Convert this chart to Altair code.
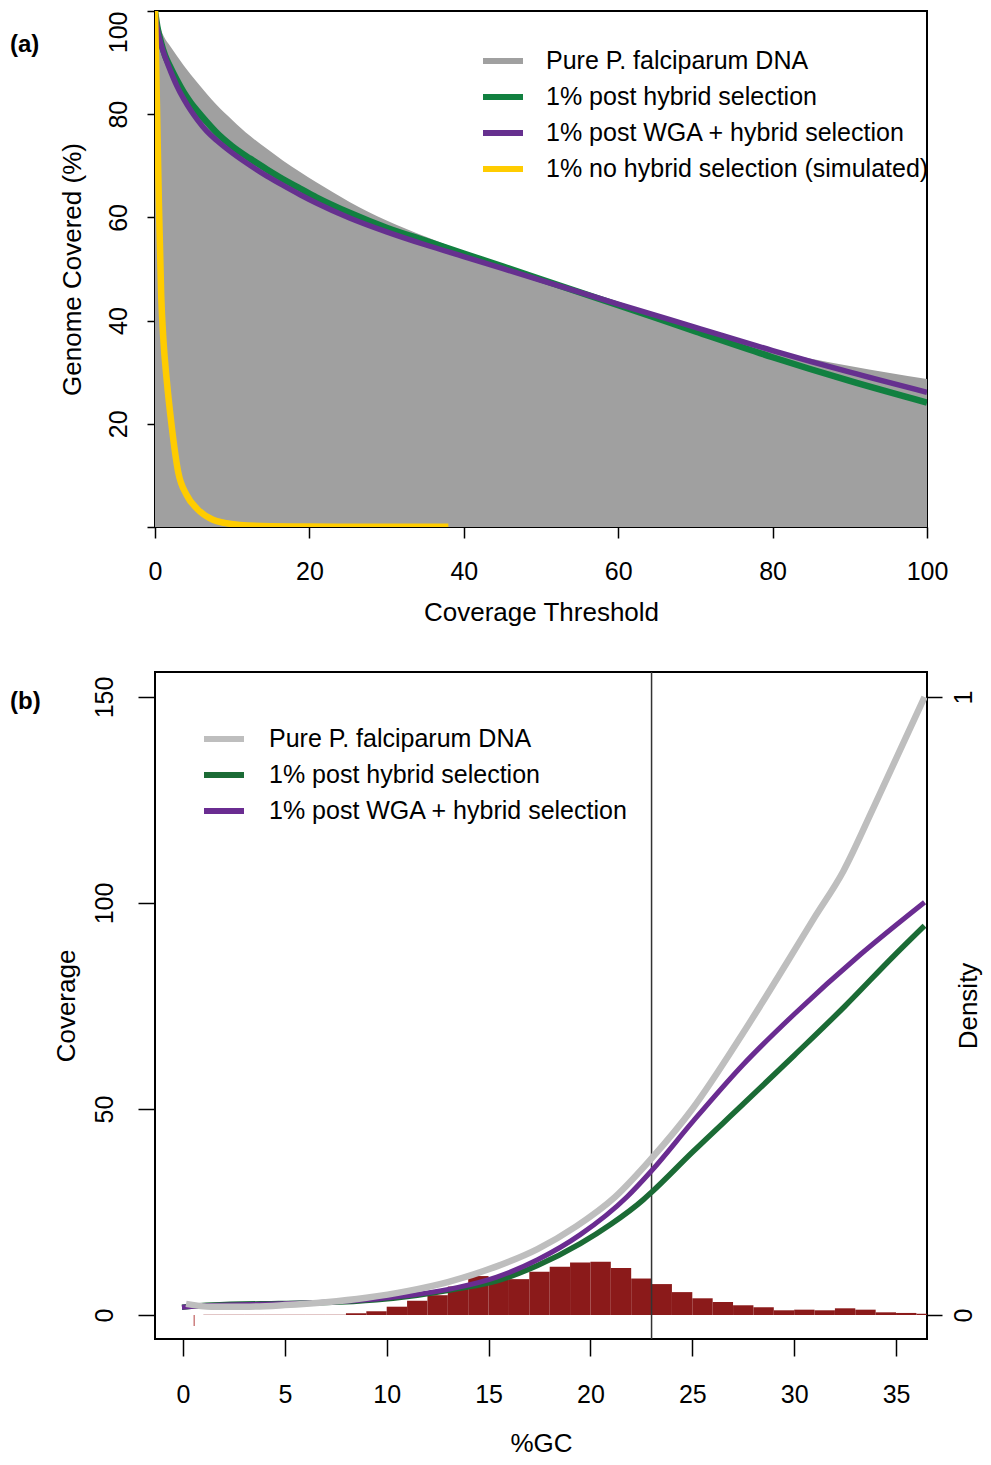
import altair as alt
import pandas as pd

FONT = "Liberation Sans"

# ---------------- panel (a): genome covered vs coverage threshold ----------------
SERIES_A = ["Pure P. falciparum DNA", "1% post hybrid selection",
            "1% post WGA + hybrid selection", "1% no hybrid selection (simulated)"]
COLORS_A = ["#A0A0A0", "#118040", "#66308F", "#FFCC00"]

pure_x = [0, 0.3, 1.1, 2.0, 3.7, 5.5, 8.0, 10.0, 12.3, 14.5, 16.6, 18.8, 20.9, 25.2, 30, 35, 40,
          50, 60, 70, 75, 80, 85, 90, 95, 100]
pure_y = [100, 98.4, 95.2, 93.1, 89.5, 86.1, 81.8, 78.9, 75.8, 73.3, 71.0, 68.8, 66.8, 63.0, 59.4,
          56.3, 53.4, 48.0, 42.9, 38.3, 36.1, 34.2, 32.6, 31.2, 29.9, 28.7]

green_x = [0, 0.3, 0.8, 1.3, 1.9, 2.8, 3.7, 4.6, 5.5, 6.7, 8, 10, 12.3, 14.5, 16.6, 18.8, 20.9,
           25.2, 30, 35, 40, 50, 60, 70, 80, 90, 100]
green_y = [100, 97.0, 93.8, 91.4, 89.4, 86.7, 84.3, 82.3, 80.6, 78.5, 76.4, 73.8, 71.4, 69.3,
           67.4, 65.6, 63.9, 60.9, 58.0, 55.5, 53.0, 48.0, 43.0, 37.9, 32.9, 28.3, 24.1]

purple_x = [0, 0.3, 0.7, 1.1, 1.5, 2, 2.8, 3.7, 4.6, 5.5, 6.7, 8, 10, 12.3, 14.5, 16.6, 18.8,
            20.9, 25.2, 30, 35, 40, 50, 60, 70, 80, 90, 100]
purple_y = [100, 96.5, 94.0, 92.0, 90.3, 88.4, 85.6, 83.0, 80.8, 78.9, 76.7, 74.9, 72.5, 70.1,
            68.0, 66.2, 64.4, 62.8, 59.9, 57.2, 54.7, 52.4, 47.8, 43.2, 38.7, 34.2, 30.0, 26.1]

yellow_x = [0, 0.25, 0.5, 0.8, 1.1, 1.5, 2.15, 3.0, 4.1, 5.4, 7.5, 9, 11, 15, 20, 30, 38]
yellow_y = [100, 82, 63, 45, 36, 28.8, 19.7, 10.7, 6.2, 3.6, 1.4, 0.8, 0.4, 0.15, 0.1, 0.05, 0.05]

# ---------------- panel (b): coverage vs %GC ----------------
SERIES_B = ["Pure P. falciparum DNA", "1% post hybrid selection", "1% post WGA + hybrid selection"]
COLORS_B = ["#BEBEBE", "#1B6B35", "#6A2C91"]

gray_gc = [0.15, 1.4, 3, 5, 7, 9, 11, 13, 15.4, 17.4, 19.3, 21.2, 23, 25, 27.5, 29.7, 31, 32.4,
           33.9, 36.4]
gray_cov = [2.7, 2.0, 2.0, 2.4, 3.1, 4.2, 5.8, 8.0, 11.8, 16.0, 21.5, 28.6, 38.0, 50.0, 68.5,
            86.0, 96.5, 107.6, 123.2, 150]

purple_gc = [-0.05, 1.4, 4.7, 7, 9.5, 11.5, 13.5, 15.4, 17.4, 19.5, 21.8, 23, 25, 27.5, 30,
             33.25, 36.4]
purple_cov = [1.9, 2.3, 2.7, 3.1, 3.9, 5.0, 6.7, 9.2, 13.4, 19.5, 28.7, 35.0, 46.8, 60.8, 73.0,
              87.5, 100.2]

green_gc = [-0.05, 1.4, 4.7, 7, 9.5, 11.5, 13.5, 15.4, 17.4, 19.5, 21, 22.6, 23, 25, 27.5, 30,
            32.5, 34.9, 36.4]
green_cov = [1.9, 2.4, 2.8, 3.0, 3.7, 4.8, 6.4, 8.3, 12.0, 17.3, 22.0, 28.0, 29.8, 39.5, 51.2,
             63, 75, 87.2, 94.5]

hist_lo = list(range(0, 37))
hist_density = [0.0, 0.0004, 0.0004, 0.0004, 0.0004, 0.0004, 0.0004, 0.0004, 0.0028, 0.006,
                0.0134, 0.023, 0.032, 0.046, 0.063, 0.057, 0.058, 0.070, 0.078, 0.085, 0.086,
                0.076, 0.059, 0.050, 0.037, 0.027, 0.021, 0.0157, 0.0125, 0.0076, 0.0086,
                0.0076, 0.0108, 0.0086, 0.0043, 0.0033, 0.002]

GC_CUTOFF = [23]
SMALL_TICK_GC = [0.55]
SMALL_TICK_COV = [0, -2.7]

LABEL_SIZE = 25
TITLE_SIZE = 26


def frame(xs, ys, name):
    return pd.DataFrame({"x": xs, "y": ys, "series": name})


# ---------- panel (a) ----------
xa = alt.X("x:Q", scale=alt.Scale(domain=[0, 100], nice=False, zero=False),
           axis=alt.Axis(values=[0, 20, 40, 60, 80, 100], title="Coverage Threshold",
                         tickSize=11, labelPadding=41, labelBaseline="alphabetic",
                         labelFlush=False, minExtent=60, maxExtent=60, titlePadding=33,
                         titleBaseline="alphabetic"))
ya = alt.Y("y:Q", scale=alt.Scale(domain=[0, 100], nice=False, zero=False),
           axis=alt.Axis(values=[0, 20, 40, 60, 80, 100],
                         labelExpr="datum.value == 0 ? '' : datum.label",
                         title="Genome Covered (%)", tickSize=8, labelAngle=270,
                         labelBaseline="alphabetic",
                         labelAlign={"condition": {"test": "datum.value == 100", "value": "right"},
                                     "value": "center"},
                         labelPadding=21, labelFlush=False, minExtent=50, maxExtent=50,
                         titlePadding=25, titleBaseline="alphabetic"))

color_a = alt.Color("series:N", scale=alt.Scale(domain=SERIES_A, range=COLORS_A),
                    legend=alt.Legend(title=None, orient="none", legendX=325, legendY=27,
                                      symbolType="stroke", symbolSize=1600,
                                      symbolStrokeWidth=6, labelFont=FONT,
                                      labelFontSize=LABEL_SIZE, labelLimit=700, labelOffset=20,
                                      rowPadding=0, padding=0, labelColor="black"))

area_a = alt.Chart(frame(pure_x, pure_y, SERIES_A[0])).mark_area(
    color="#A0A0A0", clip=True, interpolate="monotone").encode(x=xa, y=ya)

lines_a = []
for xs, ys, name, w in [(green_x, green_y, SERIES_A[1], 6.5),
                        (purple_x, purple_y, SERIES_A[2], 5.5),
                        (yellow_x, yellow_y, SERIES_A[3], 6.5)]:
    lines_a.append(alt.Chart(frame(xs, ys, name)).mark_line(
        clip=True, strokeWidth=w, interpolate="monotone").encode(x=xa, y=ya, color=color_a))

tag_a = alt.Chart(pd.DataFrame({"t": ["(a)"]})).mark_text(
    align="left", baseline="middle", font=FONT, fontSize=24, fontWeight="bold",
    color="black").encode(text="t:N", x=alt.value(-145), y=alt.value(34))

panel_a = alt.layer(area_a, *lines_a, tag_a).properties(width=772, height=516)

# ---------- panel (b) ----------
xb_scale = alt.Scale(domain=[-1.373, 36.52], nice=False, zero=False)
xb_axis = alt.Axis(values=[0, 5, 10, 15, 20, 25, 30, 35], title="%GC", tickSize=17,
                   labelPadding=46, labelBaseline="alphabetic", labelFlush=False,
                   minExtent=70, maxExtent=70, titlePadding=42, titleBaseline="alphabetic")
yb_scale = alt.Scale(domain=[-5.83, 156.07], nice=False, zero=False)
yb_axis = alt.Axis(values=[0, 50, 100, 150], title="Coverage", orient="left", tickSize=17,
                   labelAngle=270, labelBaseline="alphabetic", labelAlign="center",
                   labelPadding=26, labelFlush=False, minExtent=60, maxExtent=60,
                   titlePadding=21, titleBaseline="alphabetic")
dens_scale = alt.Scale(domain=[-5.83 / 150, 156.07 / 150], nice=False, zero=False)
dens_axis = alt.Axis(values=[0, 1], format="d", title="Density", orient="right", tickSize=15,
                     labelAngle=270, labelBaseline="alphabetic", labelAlign="center",
                     labelPadding=29, labelFlush=False, minExtent=40, maxExtent=40,
                     titlePadding=9.5, titleAngle=270, titleBaseline="alphabetic")

hist_df = pd.DataFrame({"lo": hist_lo, "hi": [v + 1 for v in hist_lo], "dens": hist_density})
bars = alt.Chart(hist_df).mark_bar(color="#8B1A1A", clip=True).encode(
    x=alt.X("lo:Q", scale=xb_scale, axis=xb_axis), x2="hi:Q",
    y=alt.Y("dens:Q", scale=dens_scale, axis=dens_axis), y2=alt.datum(0))

color_b = alt.Color("series:N", scale=alt.Scale(domain=SERIES_B, range=COLORS_B),
                    legend=alt.Legend(title=None, orient="none", legendX=46, legendY=44,
                                      symbolType="stroke", symbolSize=1600,
                                      symbolStrokeWidth=6, labelFont=FONT,
                                      labelFontSize=LABEL_SIZE, labelLimit=700, labelOffset=22,
                                      rowPadding=0, padding=0, labelColor="black"))

vline = alt.Chart(pd.DataFrame({"gc": GC_CUTOFF})).mark_rule(
    color="#333333", strokeWidth=1.5).encode(x=alt.X("gc:Q", scale=xb_scale, axis=xb_axis))

small_tick = alt.Chart(pd.DataFrame({"gc": SMALL_TICK_GC, "c0": [SMALL_TICK_COV[0]],
                                     "c1": [SMALL_TICK_COV[1]]})).mark_rule(
    color="#C06060", strokeWidth=1.2).encode(
    x=alt.X("gc:Q", scale=xb_scale, axis=xb_axis),
    y=alt.Y("c0:Q", scale=yb_scale, axis=yb_axis), y2="c1:Q")


def frame_b(xs, ys, name):
    return pd.DataFrame({"gc": xs, "cov": ys, "series": name})


lines_b = []
for xs, ys, name, w in [(green_gc, green_cov, SERIES_B[1], 5.5),
                        (purple_gc, purple_cov, SERIES_B[2], 5),
                        (gray_gc, gray_cov, SERIES_B[0], 6.5)]:
    lines_b.append(alt.Chart(frame_b(xs, ys, name)).mark_line(
        clip=True, strokeWidth=w, interpolate="monotone").encode(
        x=alt.X("gc:Q", scale=xb_scale, axis=xb_axis),
        y=alt.Y("cov:Q", scale=yb_scale, axis=yb_axis), color=color_b))

tag_b = alt.Chart(pd.DataFrame({"t": ["(b)"]})).mark_text(
    align="left", baseline="middle", font=FONT, fontSize=24, fontWeight="bold",
    color="black").encode(text="t:N", x=alt.value(-145), y=alt.value(30))

inner_b = alt.layer(vline, small_tick, *lines_b, tag_b)
panel_b = alt.layer(bars, inner_b).resolve_scale(y="independent").properties(
    width=772, height=667)

chart = alt.vconcat(panel_a, panel_b, spacing=145, bounds="flush").resolve_scale(
    color="independent").properties(
    padding={"left": 1, "top": 1, "right": 0, "bottom": 0}
).configure(font=FONT).configure_view(stroke="black", strokeWidth=2).configure_axis(
    domain=False, grid=False, tickColor="black", tickWidth=1.5, labelColor="black",
    titleColor="black", labelFont=FONT, titleFont=FONT, labelFontSize=LABEL_SIZE,
    titleFontSize=TITLE_SIZE, titleFontWeight="normal")

chart.save("out.html", embed_options={"renderer": "svg", "actions": False})
